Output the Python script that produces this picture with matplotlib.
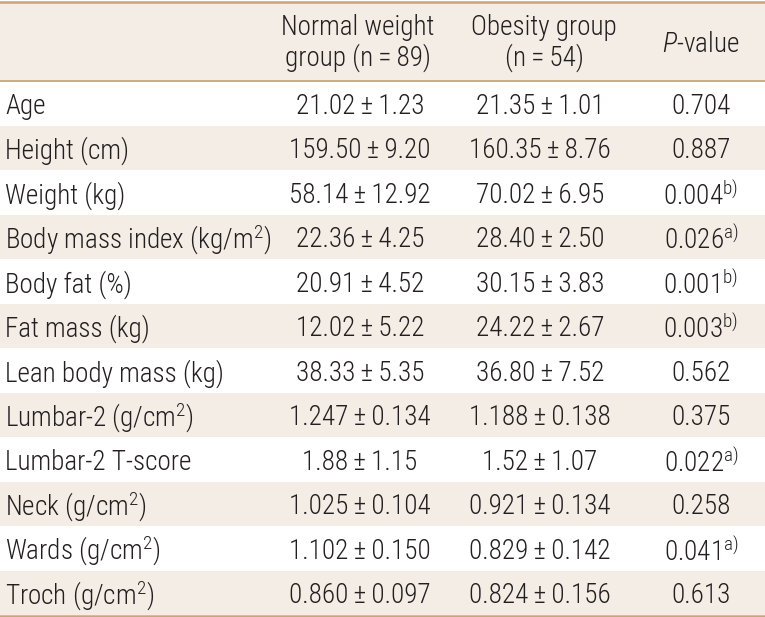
import matplotlib
matplotlib.use("Agg")
import matplotlib.pyplot as plt
from matplotlib.patches import Rectangle

plt.rcParams['font.family'] = ['Roboto Condensed', 'DejaVu Sans']
plt.rcParams['font.weight'] = 'light'
plt.rcParams['mathtext.fontset'] = 'custom'
plt.rcParams['mathtext.rm'] = 'Roboto Condensed:light'
plt.rcParams['mathtext.it'] = 'Roboto Condensed:italic:light'

# datos de la tabla
pm = '\u2009±\u2009'
etiquetas = ['Age', 'Height (cm)', 'Weight (kg)', 'Body mass index (kg/m$^{\\mathrm{2}}$)',
             'Body fat (%)', 'Fat mass (kg)', 'Lean body mass (kg)',
             'Lumbar-2 (g/cm$^{\\mathrm{2}}$)', 'Lumbar-2 T-score',
             'Neck (g/cm$^{\\mathrm{2}}$)', 'Wards (g/cm$^{\\mathrm{2}}$)',
             'Troch (g/cm$^{\\mathrm{2}}$)']
normal = ['21.02±1.23', '159.50±9.20', '58.14±12.92', '22.36±4.25', '20.91±4.52',
          '12.02±5.22', '38.33±5.35', '1.247±0.134', '1.88±1.15', '1.025±0.104',
          '1.102±0.150', '0.860±0.097']
obesidad = ['21.35±1.01', '160.35±8.76', '70.02±6.95', '28.40±2.50', '30.15±3.83',
            '24.22±2.67', '36.80±7.52', '1.188±0.138', '1.52±1.07', '0.921±0.134',
            '0.829±0.142', '0.824±0.156']
p_valor = ['0.704', '0.887', '0.004', '0.026', '0.001', '0.003', '0.562', '0.375',
           '0.022', '0.258', '0.041', '0.613']
notas = ['', '', 'b)', 'a)', 'b)', 'b)', '', '', 'a)', '', 'a)', '']
encabezados = ['Normal weight\ngroup (n\u2009=\u200989)', 'Obesity group\n(n\u2009=\u200954)',
               '$\\mathit{P}$-value']

W, H = 765, 617
beige = '#f3ede5'
linea = '#c9a47c'
texto = '#231f20'
fs = 19.5

fig = plt.figure(figsize=(W / 100, H / 100), dpi=100)
ax = fig.add_axes([0, 0, 1, 1])
ax.set_xlim(0, W)
ax.set_ylim(H, 0)
ax.axis('off')

top_head, bot_head = 3, 81
alto = (615 - bot_head) / len(etiquetas)
cols = [360, 540, 701]

ax.add_patch(Rectangle((0, top_head), W, bot_head - top_head, color=beige, lw=0))
for i in range(len(etiquetas)):
    y0 = bot_head + i * alto
    if i % 2 == 1:
        ax.add_patch(Rectangle((0, y0), W, alto, color=beige, lw=0))
    yc = y0 + alto / 2 + 3
    ax.text(5, yc, etiquetas[i], fontsize=fs, color=texto, ha='left', va='center')
    ax.text(cols[0], yc, normal[i].replace('±', pm), fontsize=fs, color=texto,
            ha='center', va='center')
    ax.text(cols[1], yc, obesidad[i].replace('±', pm), fontsize=fs, color=texto,
            ha='center', va='center')
    s = p_valor[i]
    if notas[i]:
        s = s + '$^{\\mathrm{' + notas[i] + '}}$'
    ax.text(cols[2], yc, s, fontsize=fs, color=texto, ha='center', va='center')

ax.text(cols[0] - 2, 43, encabezados[0], fontsize=fs, color=texto, ha='center', va='center',
        linespacing=1.1)
ax.text(cols[1] + 4, 43, encabezados[1], fontsize=fs, color=texto, ha='center', va='center',
        linespacing=1.1)
ax.text(cols[2], 44, encabezados[2], fontsize=fs, color=texto, ha='center', va='center')

ax.plot([0, W], [2, 2], color=linea, lw=1.8)
ax.plot([0, W], [bot_head, bot_head], color=linea, lw=1.3)
ax.plot([0, W], [615.5, 615.5], color=linea, lw=1.8)

fig.savefig('out.png', dpi=100)
